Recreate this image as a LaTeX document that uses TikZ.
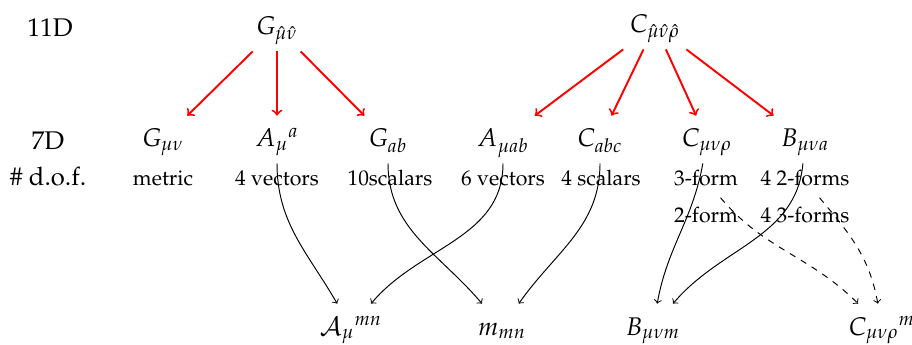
\documentclass[tikz,border=0pt]{standalone}
\usepackage[T1]{fontenc}
\usepackage{mathpazo}
\begin{document}
\begin{tikzpicture}[x=0.4695pt,y=-0.4695pt,
  sym/.style={anchor=base,font=\large,text height=10.5pt,text depth=3.5pt,inner sep=4pt},
  lab/.style={anchor=base,inner sep=3.3pt,text depth=2pt},
  rowlab/.style={anchor=base,font=\large},
  redarr/.style={->,red,line width=0.9pt},
  blk/.style={->,line width=0.45pt},
  dsh/.style={->,dashed,line width=0.45pt}]
\useasboundingbox (0,0) rectangle (912,345);
% row labels
\node[rowlab] (l11) at (50,37) {11D};
\node[rowlab] (l7) at (48,150) {7D};
\node[rowlab] (ldof) at (48,186) {\# d.o.f.};
% 11D
\node[sym] (Ghat) at (277,35) {$G_{\hat\mu\hat\nu}$};
\node[sym] (Chat) at (655,33) {$C_{\hat\mu\hat\nu\hat\rho}$};
% 7D
\node[sym] (Gmn) at (163,147) {$G_{\mu\nu}$};
\node[sym] (Aa) at (277,147) {$A_\mu{}^a$};
\node[sym] (Gab) at (388,147) {$G_{ab}$};
\node[sym] (Amab) at (503,147) {$A_{\mu ab}$};
\node[sym] (Cabc) at (600,147) {$C_{abc}$};
\node[sym] (Cmnr) at (707,147) {$C_{\mu\nu\rho}$};
\node[sym] (Bmna) at (805,147) {$B_{\mu\nu a}$};
% dof
\node[lab] (metric) at (163,186) {metric};
\node[lab] (v4) at (277,186) {4 vectors};
\node[lab] (s10) at (390,186) {10scalars};
\node[lab] (v6) at (503,186) {6 vectors};
\node[lab] (s4) at (601,186) {4 scalars};
\node[lab] (f3) at (706,186) {3-form};
\node[lab] (f2s) at (805,186) {4 2-forms};
\node[lab] (f2) at (706,223) {2-form};
\node[lab] (f3s) at (805,223) {4 3-forms};
% bottom
\node[sym] (calA) at (351,335) {$\mathcal{A}_\mu{}^{mn}$};
\node[sym] (mmn) at (502,335) {$m_{mn}$};
\node[sym] (Bmnm) at (653,335) {$B_{\mu\nu m}$};
\node[sym] (Cm) at (882,335) {$C_{\mu\nu\rho}{}^m$};
% red arrows
\draw[redarr] (Ghat) -- (Gmn);
\draw[redarr] (Ghat) -- (Aa);
\draw[redarr] (Ghat) -- (Gab);
\draw[redarr] (Chat) -- (Amab);
\draw[redarr] (Chat) -- (Cabc);
\draw[redarr] (Chat) -- (Cmnr);
\draw[redarr] (Chat) -- (Bmna);
% black curves
\draw[blk] (Aa) to[out=-90,in=120] (calA);
\draw[blk] (Gab) to[out=-90,in=130] (mmn);
\draw[blk] (Amab) to[out=-90,in=50] (calA);
\draw[blk] (Cabc) to[out=-90,in=55] (mmn);
\draw[blk] (Cmnr) to[out=-100,in=80] (Bmnm);
\draw[blk] (Bmna) to[out=-95,in=50] (Bmnm);
% dashed
\draw[dsh] (f3) to[out=-50,in=135] (Cm);
\draw[dsh] (f2s) to[out=-50,in=100] (Cm);
\end{tikzpicture}
\end{document}
